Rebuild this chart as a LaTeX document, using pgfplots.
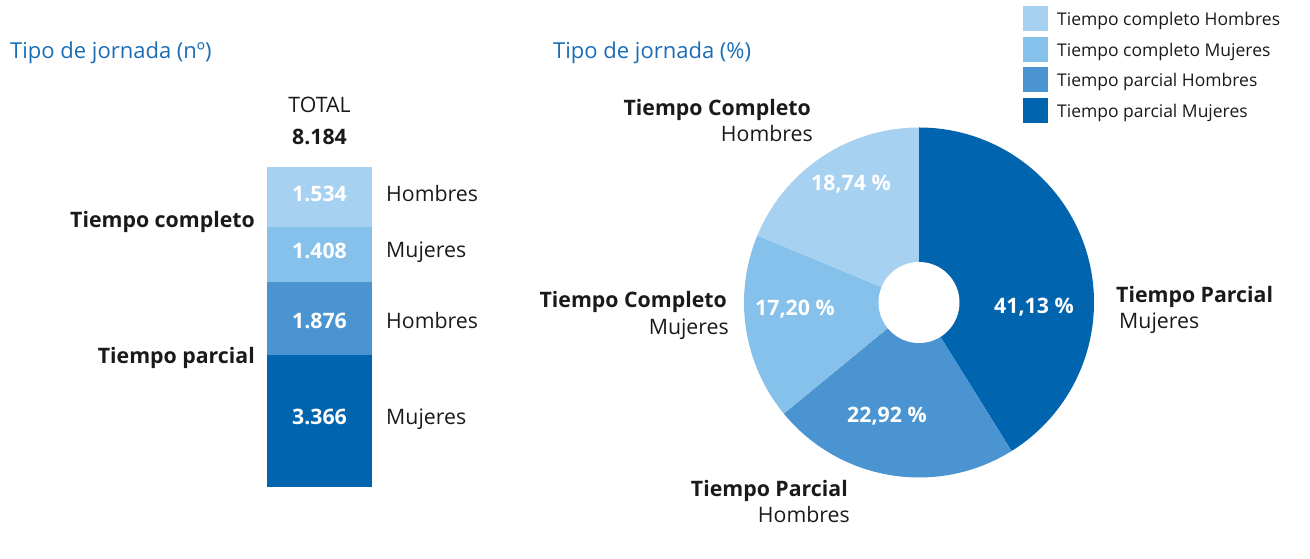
\documentclass[border=0pt]{standalone}
\usepackage{pgfplots}
\pgfplotsset{compat=1.18}
\usepackage{pgfplotstable}
\usepackage{fontspec}
\setmainfont{Open Sans}
\definecolor{cCH}{HTML}{A6D1F0}
\definecolor{cCM}{HTML}{85C1EA}
\definecolor{cPH}{HTML}{4A94D1}
\definecolor{cPM}{HTML}{0064AF}
\definecolor{ttl}{HTML}{1B6DB5}
\definecolor{txt}{HTML}{1A1A1A}

\pgfplotstableread{
serie pct color
PM 41.13 cPM
PH 22.92 cPH
CM 17.20 cCM
CH 18.74 cCH
}\piedata

\newcommand\fs{\fontsize{21.3}{25}\selectfont}
\begin{document}
\begin{tikzpicture}[x=1pt,y=1pt,font=\fs,text=txt]
\useasboundingbox (0,0) rectangle (1310,559);

% ---------- stacked bar (n) ----------
\begin{axis}[at={(267pt,72pt)}, anchor=south west, scale only axis,
  width=105pt, height=320pt, hide axis, ybar stacked, bar width=105pt,
  xmin=-0.5, xmax=0.5, ymin=0, ymax=8184, enlargelimits=false, clip=false]
\addplot[fill=cPM, draw=none] coordinates {(0,3366)};
\addplot[fill=cPH, draw=none] coordinates {(0,1876)};
\addplot[fill=cCM, draw=none] coordinates {(0,1408)};
\addplot[fill=cCH, draw=none] coordinates {(0,1534)};
\end{axis}

% ---------- donut (%) ----------
\begin{axis}[at={(919pt,256.5pt)}, anchor=center, scale only axis,
  x=1pt, y=1pt, xmin=-200, xmax=200, ymin=-200, ymax=200,
  hide axis, clip=false]
\gdef\startang{90}
\pgfplotsforeachungrouped \i in {0,1,2,3}{%
  \pgfplotstablegetelem{\i}{pct}\of\piedata \let\mypct\pgfplotsretval
  \pgfplotstablegetelem{\i}{color}\of\piedata \let\mycol\pgfplotsretval
  \pgfmathsetmacro\endang{\startang-3.6*\mypct}%
  \edef\temp{\noexpand\fill[\mycol] (axis cs:0,0) -- (axis cs:{175*cos(\startang)},{175*sin(\startang)}) arc[start angle=\startang, end angle=\endang, radius=175pt] -- cycle;}%
  \temp
  \global\let\startang\endang
}
\fill[white] (axis cs:0,0) circle[radius=40.5pt];
\end{axis}

% ---------- titles ----------
\node[anchor=base west, inner sep=0, text=ttl, font=\fontsize{22}{26}\selectfont] at (10,500) {Tipo de jornada (nº)};
\node[anchor=base west, inner sep=0, text=ttl, font=\fontsize{22}{26}\selectfont] at (553,500) {Tipo de jornada (\%)};

% ---------- bar labels ----------
\node[anchor=base, inner sep=0] at (319.5,446) {TOTAL};
\node[anchor=base, inner sep=0, font=\fs\bfseries] at (319.5,414) {8.184};
\begin{scope}[every node/.style={anchor=base, inner sep=0, text=white, font=\fs\bfseries}]
\node at (319.5,357) {1.534};
\node at (319.5,300) {1.408};
\node at (319.5,230) {1.876};
\node at (319.5,134) {3.366};
\end{scope}
\begin{scope}[every node/.style={anchor=base west, inner sep=0}]
\node at (386,357) {Hombres};
\node at (386,301) {Mujeres};
\node at (386,230) {Hombres};
\node at (386,134) {Mujeres};
\end{scope}
\begin{scope}[every node/.style={anchor=base east, inner sep=0, font=\fs\bfseries}]
\node at (255,331) {Tiempo completo};
\node at (255,195) {Tiempo parcial};
\end{scope}

% ---------- donut labels ----------
\begin{scope}[every node/.style={anchor=base, inner sep=0, text=white, font=\fs\bfseries}]
\node at (851,368) {18,74 \%};
\node at (795,243) {17,20 \%};
\node at (887,136) {22,92 \%};
\node at (1034,245) {41,13 \%};
\end{scope}
\node[anchor=base east, inner sep=0, font=\fs\bfseries] at (811,443) {Tiempo Completo};
\node[anchor=base east, inner sep=0] at (813,417) {Hombres};
\node[anchor=base east, inner sep=0, font=\fs\bfseries] at (727,251) {Tiempo Completo};
\node[anchor=base east, inner sep=0] at (729,224) {Mujeres};
\node[anchor=base east, inner sep=0, font=\fs\bfseries] at (848,62) {Tiempo Parcial};
\node[anchor=base east, inner sep=0] at (850,36) {Hombres};
\node[anchor=base west, inner sep=0, font=\fs\bfseries] at (1116,256) {Tiempo Parcial};
\node[anchor=base west, inner sep=0] at (1119,230) {Mujeres};

% ---------- legend ----------
\fill[cCH] (1023,528) rectangle (1048,553);
\fill[cCM] (1023,497) rectangle (1048,522);
\fill[cPH] (1023,467) rectangle (1048,492);
\fill[cPM] (1023,436) rectangle (1048,461);
\begin{scope}[every node/.style={anchor=base west, inner sep=0, font=\fontsize{17.5}{21}\selectfont}]
\node at (1057,533) {Tiempo completo Hombres};
\node at (1057,502.5) {Tiempo completo Mujeres};
\node at (1057,472) {Tiempo parcial Hombres};
\node at (1057,441) {Tiempo parcial Mujeres};
\end{scope}
\end{tikzpicture}
\end{document}
